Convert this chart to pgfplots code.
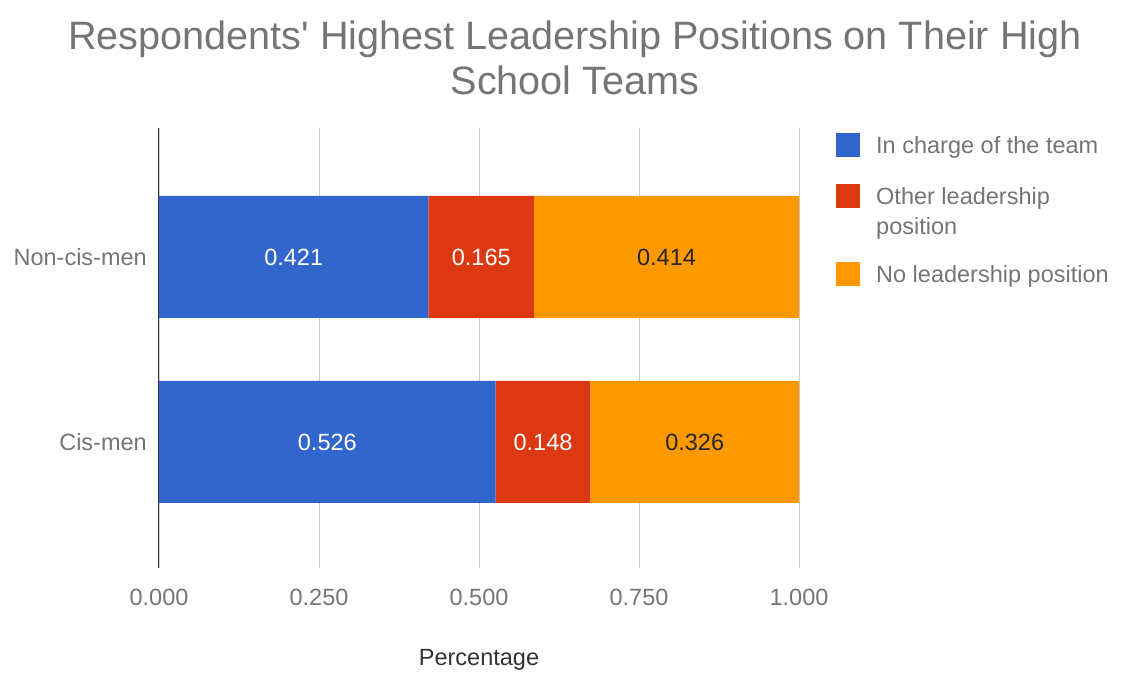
\documentclass[border=0pt]{standalone}
\usepackage{pgfplots}
\pgfplotsset{compat=1.18}
\usepackage{fontspec}
\setmainfont{Liberation Sans}

\definecolor{cblue}{HTML}{3366CC}
\definecolor{cred}{HTML}{DC3912}
\definecolor{corange}{HTML}{FF9900}
\definecolor{txtgrey}{HTML}{757575}
\definecolor{gridgrey}{HTML}{CCCCCC}

\newcommand{\basefont}{\fontsize{23.5}{30}\selectfont}

% square legend images; the raised one sits on the first line of a two-line entry
\pgfplotsset{
    squarelegend/.style={legend image code/.code={\fill[##1] (0pt,-3.5pt) rectangle (24pt,20.5pt);}},
    raisedlegend/.style={legend image code/.code={\fill[##1] (0pt,26.5pt) rectangle (24pt,50.5pt);}},
}

\begin{document}
\begin{tikzpicture}
\path[use as bounding box] (-159pt,-119pt) rectangle (968pt,568pt);
\begin{axis}[
    scale only axis,
    width=640pt, height=440pt,
    xbar stacked,
    bar width=122pt,
    xmin=0, xmax=1,
    ymin=-0.681, ymax=1.697,
    xtick={0,0.25,0.5,0.75,1},
    ytick={0,1},
    yticklabels={Cis-men,Non-cis-men},
    scaled x ticks=false,
    /pgf/number format/fixed,
    /pgf/number format/fixed zerofill,
    /pgf/number format/precision=3,
    /pgf/number format/assume math mode=true,
    xticklabel style={anchor=center, yshift=-29pt, inner sep=0pt},
    yticklabel style={anchor=east, xshift=-12pt, inner sep=0pt},
    tick label style={font=\basefont, text=txtgrey},
    major tick length=0pt,
    axis lines*=left,
    axis line style={-},
    x axis line style={draw=none},
    y axis line style={draw=black!80, line width=1pt},
    xmajorgrids,
    grid style={gridgrey, line width=0.8pt},
    xlabel={Percentage},
    xlabel style={font=\basefont, text=black!80, at={(0.5,0)}, anchor=center, yshift=-92pt},
    legend cell align=left,
    legend style={at={(1,1)}, anchor=north west, xshift=37pt, yshift=-5pt,
        draw=none, fill=none, inner sep=0pt, row sep=24pt,
        font=\basefont, text=txtgrey,
        cells={anchor=base west}},
    squarelegend,
    every axis plot/.append style={draw=none},
]
\addplot[fill=cblue] coordinates {(0.526,0) (0.421,1)};
\addlegendentry{\hspace{14pt}In charge of the team}
\addplot[fill=cred, raisedlegend] coordinates {(0.148,0) (0.165,1)};
\addlegendentry{\hspace{14pt}\begin{tabular}[b]{@{}l@{}}Other leadership\\position\end{tabular}}
\addplot[fill=corange] coordinates {(0.326,0) (0.414,1)};
\addlegendentry{\hspace{14pt}No leadership position}

\coordinate (a1) at (axis cs:0.2105,1);
\coordinate (a2) at (axis cs:0.5035,1);
\coordinate (a3) at (axis cs:0.793,1);
\coordinate (b1) at (axis cs:0.263,0);
\coordinate (b2) at (axis cs:0.600,0);
\coordinate (b3) at (axis cs:0.837,0);
\end{axis}
\begin{scope}[every node/.style={font=\basefont}]
\node[text=white] at (a1) {0.421};
\node[text=white] at (a2) {0.165};
\node[text=black!85] at (a3) {0.414};
\node[text=white] at (b1) {0.526};
\node[text=white] at (b2) {0.148};
\node[text=black!85] at (b3) {0.326};
\end{scope}
\node[align=center, text=txtgrey, font=\fontsize{39.6}{45}\selectfont] at (416pt,510.5pt)
    {Respondents\textquotesingle\ Highest Leadership Positions on Their High\\School Teams};
\end{tikzpicture}
\end{document}
